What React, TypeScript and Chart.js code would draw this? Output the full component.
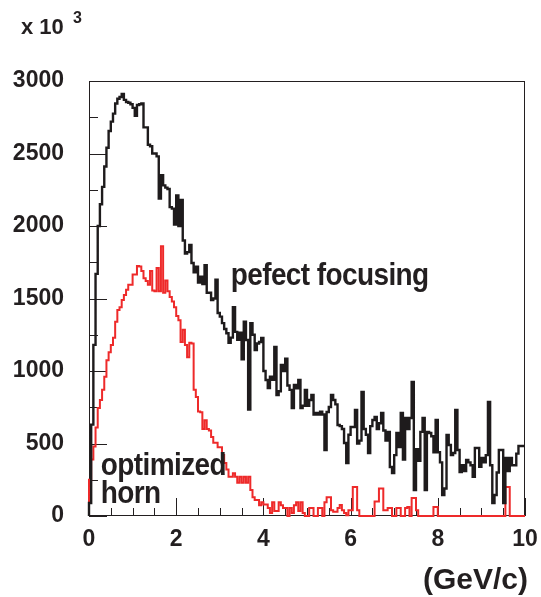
import React, { useEffect, useRef } from "react";
import { Chart, registerables } from "chart.js";

Chart.register(...registerables);

// ---- data (200 bins of 0.05 GeV/c from 0 to 10), values in units of 10^3 ----
const xMin = 0;
const xMax = 10;
const binWidth = 0.05;

const perfectFocusing = [
  40, 90, 630, 1180, 1670, 2000, 2150, 2270, 2410, 2540,
  2655, 2720, 2775, 2845, 2878, 2890, 2910, 2870, 2855, 2850,
  2840, 2815, 2760, 2835, 2840, 2845, 2680, 2680, 2560, 2550,
  2500, 2500, 2480, 2190, 2350, 2280, 2265, 2255, 2130, 2120,
  2010, 2210, 2000, 2180, 1900, 1810, 1820, 1870, 1745, 1680,
  1720, 1610, 1650, 1600, 1730, 1540, 1540, 1490, 1500, 1630,
  1400, 1375, 1330, 1290, 1260, 1195, 1230, 1440, 1270, 1215,
  1265, 1080, 1340, 1214, 735, 1330, 1250, 1145, 1190, 1200,
  1228, 1000, 938, 883, 960, 940, 1166, 834, 860, 1041,
  1000, 1085, 900, 870, 745, 903, 880, 938, 745, 760,
  869, 760, 800, 834, 700, 710, 700, 720, 700, 455,
  717, 752, 834, 800, 770, 628, 620, 600, 503, 365,
  560, 614, 614, 731, 500, 520, 855, 600, 560, 434,
  620, 662, 683, 600, 640, 710, 590, 520, 580, 338,
  297, 420, 572, 476, 710, 390, 676, 600, 676, 924,
  179, 460, 380, 580, 676, 179, 580, 572, 550, 440,
  662, 440, 370, 145, 190, 559, 490, 420, 434, 731,
  455, 303, 350, 310, 386, 370, 350, 270, 469, 469,
  340, 400, 370, 420, 786, 350, 90, 145, 300, 455,
  455, 90, 400, 310, 400, 350, 350, 430, 483, 483,
];

const optimizedHorn = [
  90, 250, 390, 480, 610, 745, 800, 870, 960, 1075,
  1130, 1180, 1230, 1340, 1420, 1440, 1490, 1525, 1560, 1595,
  1595, 1665, 1665, 1725, 1720, 1690, 1640, 1620, 1595, 1690,
  1555, 1550, 1710, 1550, 1860, 1540, 1625, 1550, 1510, 1480,
  1440, 1380, 1350, 1200, 1285, 1180, 1095, 1195, 1190, 870,
  820, 720, 715, 600, 660, 600, 590, 545, 505, 505,
  475, 475, 420, 365, 320, 270, 270, 295, 270, 230,
  270, 230, 270, 230, 270, 180, 130, 110, 110, 75,
  95, 80, 80, 55, 20, 95, 35, 35, 95, 75,
  55, 55, 0, 55, 20, 75, 95, 35, 95, 20,
  0, 0, 55, 55, 0, 0, 55, 55, 0, 95,
  130, 130, 40, 30, 30, 55, 76, 40, 20, 5,
  40, 40, 200, 200, 40, 0, 0, 0, 0, 0,
  0, 0, 100, 100, 190, 190, 40, 40, 55, 55,
  0, 0, 55, 55, 0, 0, 55, 62, 0, 124,
  124, 40, 0, 0, 0, 0, 0, 0, 0, 62,
  62, 0, 0, 0, 0, 0, 0, 0, 0, 0,
  0, 0, 0, 0, 0, 0, 0, 0, 0, 0,
  0, 0, 0, 0, 0, 0, 0, 0, 0, 0,
  0, 0, 200, 200, 0, 0, 0, 0, 0, 0,
];

const yMin = 0;
const yMax = 3000;
const yMajorStep = 500;
const yMinorStep = 250;
const xMajorStep = 2;
const xMinorStep = 0.5;

const xAxisTitle = "(GeV/c)";
const yScaleBase = "x 10";
const yScaleExp = "3";
const labelPerfect = "pefect focusing";
const labelOptimized1 = "optimized";
const labelOptimized2 = "horn";

// ---- helpers ----
const FONT = "'Liberation Sans', Arial, Helvetica, sans-serif";
const INK = "#231f20";

function histPoints(values: number[]) {
  const pts: { x: number; y: number }[] = [{ x: xMin, y: 0 }];
  values.forEach((v, i) => pts.push({ x: xMin + i * binWidth, y: v }));
  pts.push({ x: xMax, y: values[values.length - 1] });
  return pts;
}

function drawStretched(
  ctx: CanvasRenderingContext2D,
  text: string,
  x: number,
  y: number,
  size: number,
  sy: number,
  spacing: number
) {
  ctx.save();
  ctx.font = `bold ${size}px ${FONT}`;
  (ctx as any).letterSpacing = `${spacing}px`;
  ctx.fillStyle = INK;
  ctx.textAlign = "left";
  ctx.textBaseline = "alphabetic";
  ctx.translate(x, y);
  ctx.scale(1, sy);
  ctx.fillText(text, 0, 0);
  ctx.restore();
}

const rootStyle = {
  id: "rootStyle",
  beforeDatasetsDraw(chart: any) {
    const { ctx, chartArea: a, scales } = chart;
    ctx.save();
    ctx.strokeStyle = INK;
    ctx.lineWidth = 1;
    ctx.strokeRect(a.left + 0.5, a.top + 0.5, a.right - a.left - 1, a.bottom - a.top - 1);
    ctx.beginPath();
    for (let v = yMin; v <= yMax; v += yMinorStep) {
      const y = Math.round(scales.y.getPixelForValue(v)) + 0.5;
      const len = v % yMajorStep === 0 ? 18 : 9;
      ctx.moveTo(a.left, y);
      ctx.lineTo(a.left + len, y);
    }
    for (let v = xMin; v <= xMax + 1e-9; v += xMinorStep) {
      const x = Math.round(scales.x.getPixelForValue(v)) + 0.5;
      const isMajor = Math.abs(v / xMajorStep - Math.round(v / xMajorStep)) < 1e-6;
      const len = isMajor ? 18 : 8;
      ctx.moveTo(x, a.bottom);
      ctx.lineTo(x, a.bottom - len);
    }
    ctx.stroke();
    ctx.restore();
  },
  afterDraw(chart: any) {
    const { ctx, scales } = chart;
    const sx = scales.x;
    const sy = scales.y;
    ctx.save();
    ctx.fillStyle = INK;
    ctx.font = `bold 30px ${FONT}`;
    ctx.textAlign = "right";
    ctx.textBaseline = "alphabetic";
    ctx.fillText(xAxisTitle, 528, 589);
    ctx.textAlign = "left";
    ctx.font = `bold 22px ${FONT}`;
    ctx.fillText(yScaleBase, 21, 34);
    ctx.font = `bold 16px ${FONT}`;
    ctx.fillText(yScaleExp, 73, 23);
    ctx.restore();
    drawStretched(ctx, labelPerfect, sx.getPixelForValue(3.25), sy.getPixelForValue(1590), 28, 1.15, -0.6);
    drawStretched(ctx, labelOptimized1, sx.getPixelForValue(0.27), sy.getPixelForValue(280), 28, 1.15, -0.6);
    drawStretched(ctx, labelOptimized2, sx.getPixelForValue(0.27), sy.getPixelForValue(88), 28, 1.15, -0.6);
  },
};

export default function App() {
  const ref = useRef<HTMLCanvasElement | null>(null);

  useEffect(() => {
    document.body.style.margin = "0";
    const canvas = ref.current;
    if (!canvas) return;
    const chart = new Chart(canvas, {
      type: "line",
      data: {
        datasets: [
          {
            label: labelPerfect,
            data: histPoints(perfectFocusing),
            borderColor: "#1e1b1c",
            borderWidth: 2.4,
            stepped: "after",
            pointRadius: 0,
            fill: false,
            clip: 3,
          } as any,
          {
            label: labelOptimized1 + " " + labelOptimized2,
            data: histPoints(optimizedHorn),
            borderColor: "#ee2a2a",
            borderWidth: 2,
            stepped: "after",
            pointRadius: 0,
            fill: false,
            clip: 3,
          } as any,
        ],
      },
      options: {
        animation: false,
        responsive: false,
        devicePixelRatio: 1,
        parsing: false as any,
        layout: { padding: { top: 81, right: 16, left: 0, bottom: 0 } },
        plugins: {
          legend: { display: false },
          tooltip: { enabled: false },
          title: { display: false },
        },
        scales: {
          x: {
            type: "linear",
            min: xMin,
            max: xMax,
            grid: { display: false, drawTicks: false },
            border: { display: false },
            afterFit: (scale: any) => {
              scale.height = 81;
              scale.paddingLeft = 0;
              scale.paddingRight = 0;
            },
            ticks: {
              stepSize: xMajorStep,
              autoSkip: false,
              maxRotation: 0,
              padding: 10,
              color: INK,
              font: { family: FONT, size: 23, weight: "bold" },
              callback: (v: any) => String(v),
            },
          },
          y: {
            type: "linear",
            min: yMin,
            max: yMax,
            grid: { display: false, drawTicks: false },
            border: { display: false },
            afterFit: (scale: any) => {
              scale.width = 89;
              scale.paddingTop = 0;
              scale.paddingBottom = 0;
            },
            ticks: {
              stepSize: yMajorStep,
              autoSkip: false,
              padding: 25,
              color: INK,
              font: { family: FONT, size: 23, weight: "bold" },
              callback: (v: any) => String(v),
            },
          },
        },
      },
      plugins: [rootStyle],
    });
    return () => chart.destroy();
  }, []);

  return (
    <div style={{ width: 541, height: 597, background: "#fff" }}>
      <canvas ref={ref} width={541} height={597} style={{ width: 541, height: 597, display: "block" }} />
    </div>
  );
}
